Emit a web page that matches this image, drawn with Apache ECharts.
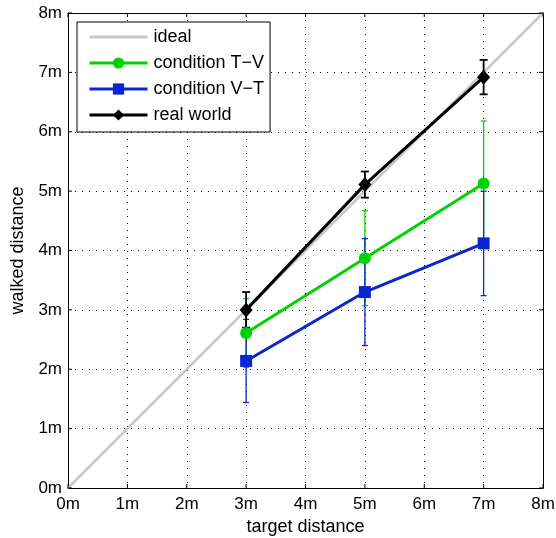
<!DOCTYPE html>
<html>
<head>
<meta charset="utf-8">
<script src="https://cdn.jsdelivr.net/npm/echarts@6/dist/echarts.min.js"></script>
<style>html,body{margin:0;padding:0;background:#fff}#c{width:556px;height:538px}</style>
</head>
<body>
<div id="c"></div>
<script>
var targets = [3, 5, 7];
var tvMean = [2.61, 3.87, 5.13];
var tvErr = [0.58, 0.80, 1.05];
var vtMean = [2.14, 3.30, 4.12];
var vtErr = [0.70, 0.90, 0.88];
var rwMean = [3.00, 5.11, 6.92];
var rwErr = [0.30, 0.22, 0.29];
var idealLine = [[0, 0], [8, 8]];
var tickValues = [0, 1, 2, 3, 4, 5, 6, 7, 8];
var tickLabels = ['0m', '1m', '2m', '3m', '4m', '5m', '6m', '7m', '8m'];

var FONT = 'Liberation Sans, Arial, Helvetica, sans-serif';
var GREEN = '#00d400', BLUE = '#0a26d0', BLACK = '#000000', GRAY = '#c8c8c8';
var AX_MIN = tickValues[0], AX_MAX = tickValues[tickValues.length - 1];

function pts(means) { return targets.map(function (t, i) { return [t, means[i]]; }); }
function errs(means, e) { return targets.map(function (t, i) { return [t, means[i] - e[i], means[i] + e[i]]; }); }

function errSeries(data, color, lw, cap) {
  return {
    type: 'custom',
    data: data,
    z: 3,
    silent: true,
    encode: { x: 0, y: [1, 2] },
    renderItem: function (params, api) {
      var x = api.value(0);
      var lo = api.coord([x, api.value(1)]);
      var hi = api.coord([x, api.value(2)]);
      var st = { stroke: color, lineWidth: lw };
      return {
        type: 'group',
        children: [
          { type: 'line', shape: { x1: lo[0], y1: lo[1], x2: hi[0], y2: hi[1] }, style: st },
          { type: 'line', shape: { x1: lo[0] - cap, y1: lo[1], x2: lo[0] + cap, y2: lo[1] }, style: st },
          { type: 'line', shape: { x1: hi[0] - cap, y1: hi[1], x2: hi[0] + cap, y2: hi[1] }, style: st }
        ]
      };
    }
  };
}

// inside tick marks on all four sides, positioned via the axis scales
var tickSeries = {
  type: 'custom',
  data: tickValues.map(function (v) { return [v, v]; }),
  z: 6,
  silent: true,
  clip: false,
  encode: { x: 0, y: 1 },
  renderItem: function (params, api) {
    var v = api.value(0), L = 4;
    var st = { stroke: '#000', lineWidth: 1 };
    var b = api.coord([v, AX_MIN]), t = api.coord([v, AX_MAX]);
    var l = api.coord([AX_MIN, v]), r = api.coord([AX_MAX, v]);
    return {
      type: 'group',
      children: [
        { type: 'line', shape: { x1: b[0], y1: b[1], x2: b[0], y2: b[1] - L }, style: st },
        { type: 'line', shape: { x1: t[0], y1: t[1], x2: t[0], y2: t[1] + L }, style: st },
        { type: 'line', shape: { x1: l[0], y1: l[1], x2: l[0] + L, y2: l[1] }, style: st },
        { type: 'line', shape: { x1: r[0], y1: r[1], x2: r[0] - L, y2: r[1] }, style: st }
      ]
    };
  }
};

function axisBase() {
  return {
    type: 'value', min: AX_MIN, max: AX_MAX, interval: 1,
    axisLine: { show: true, onZero: false, lineStyle: { color: '#000', width: 1 } },
    axisTick: { show: false }
  };
}

var chart = echarts.init(document.getElementById('c'));
chart.setOption({
  animation: false,
  backgroundColor: '#fff',
  grid: { left: 68, right: 13, top: 13, bottom: 50, containLabel: false, outerBoundsMode: 'none' },
  legend: {
    orient: 'vertical',
    left: 77, top: 22,
    itemWidth: 58, itemHeight: 14, itemGap: 8,
    padding: [6, 6, 8, 11],
    borderColor: '#000', borderWidth: 1,
    backgroundColor: '#fff',
    lineStyle: { width: 3 },
    textStyle: { fontFamily: FONT, fontSize: 18, color: '#000', padding: [0, 0, 0, 1] },
    data: [{ name: 'ideal', itemStyle: { opacity: 0 } }, 'condition T−V', 'condition V−T', 'real world']
  },
  xAxis: [
    Object.assign(axisBase(), {
      position: 'bottom',
      name: 'target distance', nameLocation: 'middle', nameGap: 28,
      nameTextStyle: { fontFamily: FONT, fontSize: 18, color: '#000' },
      axisLabel: { fontFamily: FONT, fontSize: 17, color: '#000', margin: 8,
        formatter: function (v) { return tickLabels[tickValues.indexOf(v)]; } },
      splitLine: { show: true, lineStyle: { color: '#000', type: [1, 6], width: 1 } }
    }),
    Object.assign(axisBase(), {
      position: 'top', axisLabel: { show: false }, splitLine: { show: false }
    })
  ],
  yAxis: [
    Object.assign(axisBase(), {
      position: 'left',
      name: 'walked distance', nameLocation: 'middle', nameGap: 41, nameRotate: 90,
      nameTextStyle: { fontFamily: FONT, fontSize: 18, color: '#000' },
      axisLabel: { fontFamily: FONT, fontSize: 17, color: '#000', margin: 6,
        formatter: function (v) { return tickLabels[tickValues.indexOf(v)]; } },
      splitLine: { show: true, lineStyle: { color: '#000', type: [1, 6], width: 1 } }
    }),
    Object.assign(axisBase(), {
      position: 'right', axisLabel: { show: false }, splitLine: { show: false }
    })
  ],
  series: [
    { name: 'ideal', type: 'line', data: idealLine, symbol: 'none', z: 1,
      lineStyle: { color: GRAY, width: 2.5 }, itemStyle: { color: GRAY } },
    errSeries(errs(tvMean, tvErr), GREEN, 1.3, 3),
    errSeries(errs(vtMean, vtErr), BLUE, 1.3, 3),
    { name: 'condition T−V', type: 'line', data: pts(tvMean), z: 4,
      symbol: 'circle', symbolSize: 12,
      lineStyle: { color: GREEN, width: 3 }, itemStyle: { color: GREEN } },
    { name: 'condition V−T', type: 'line', data: pts(vtMean), z: 4,
      symbol: 'rect', symbolSize: 12,
      lineStyle: { color: BLUE, width: 3 }, itemStyle: { color: BLUE } },
    errSeries(errs(rwMean, rwErr), BLACK, 1.8, 4),
    { name: 'real world', type: 'line', data: pts(rwMean), z: 5,
      symbol: 'diamond', symbolSize: [13, 15],
      lineStyle: { color: BLACK, width: 3 }, itemStyle: { color: BLACK } },
    tickSeries
  ]
});
</script>
</body>
</html>
